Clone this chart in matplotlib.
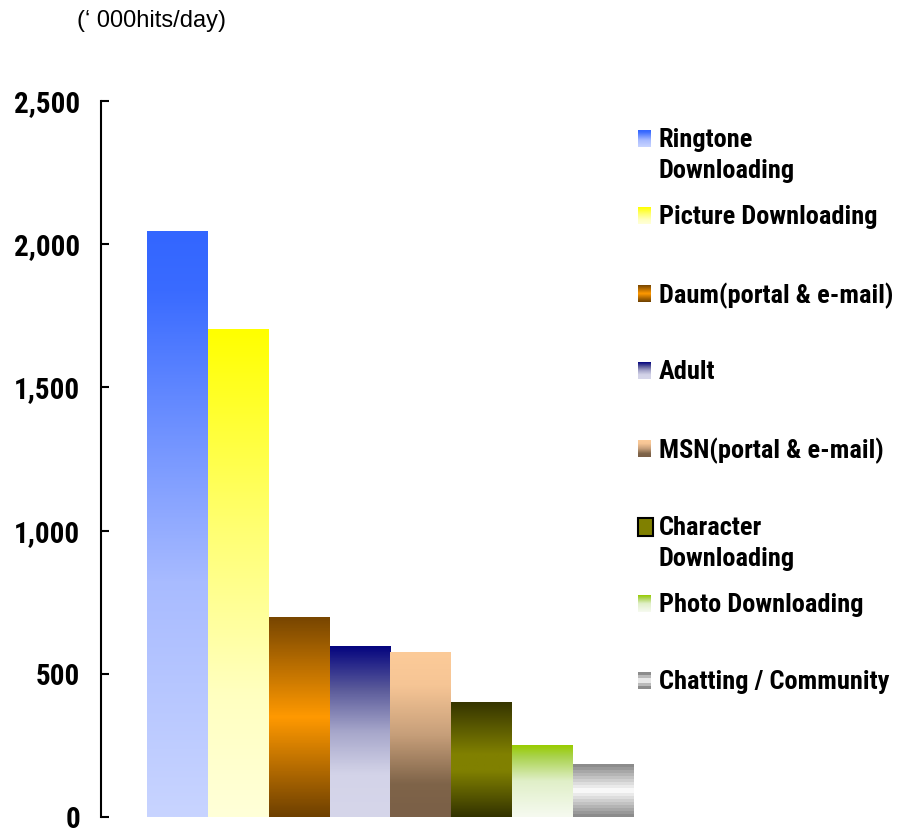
import numpy as np
import matplotlib
matplotlib.use('Agg')
import matplotlib.pyplot as plt
from matplotlib import colors, ticker, font_manager
from matplotlib.font_manager import FontProperties


categories = ['Ringtone\nDownloading', 'Picture Downloading', 'Daum(portal & e-mail)',
              'Adult', 'MSN(portal & e-mail)', 'Character\nDownloading',
              'Photo Downloading', 'Chatting / Community']
hits = [2045, 1703, 695, 597, 576, 401, 248, 185]   # '000 hits/day
yticks = [0, 500, 1000, 1500, 2000, 2500]
unit_label = '(\u2018 000hits/day)'

# gradient stops per bar, top -> bottom
gradients = [
    [(0, '#3366FF'), (0.1, '#3A6BFF'), (0.6, '#A8BBFF'), (1, '#C8D4FF')],
    [(0, '#FFFF00'), (0.4, '#FFFF70'), (0.75, '#FFFFC0'), (1, '#FFFFD8')],
    [(0, '#784600'), (0.5, '#FF9900'), (1, '#6E4000')],
    [(0, '#05057F'), (0.25, '#5A5A9A'), (0.5, '#A6A6CA'), (0.75, '#D3D3E8'), (1, '#D6D6EA')],
    [(0, '#FCCB99'), (0.2, '#F6C595'), (0.5, '#C79F7A'), (0.8, '#7F6449'), (1, '#7A5F47')],
    [(0, '#363500'), (0.45, '#808000'), (0.6, '#808000'), (1, '#333300')],
    [(0, '#99CC00'), (0.15, '#A8D24A'), (0.5, '#E0EFC8'), (1, '#F6FAF0')],
    [(0, '#8C8C8C'), (0.5, '#FFFFFF'), (1, '#8C8C8C')],
]
banded = [False, False, False, False, False, False, False, True]


def pick_font(fams):
    for f in fams:
        try:
            font_manager.findfont(FontProperties(family=f), fallback_to_default=False)
            return f
        except ValueError:
            pass
    return None

narrow = pick_font(['Arial Narrow', 'Liberation Sans Narrow', 'Roboto Condensed', 'Archivo Narrow'])
regular = pick_font(['Liberation Sans', 'Arial']) or 'DejaVu Sans'
if narrow:
    tick_size, leg_size = 21, 19
else:
    narrow, tick_size, leg_size = regular, 19, 16


def grad_img(stops, n=200):
    cmap = colors.LinearSegmentedColormap.from_list('g', stops)
    return cmap(np.linspace(0, 1, n))[:, None, :3]


fig = plt.figure(figsize=(9, 8.31), dpi=100)
W, H = 900, 831
ax = fig.add_axes([101 / W, (H - 817) / H, 539 / W, (817 - 101) / H])

for i, (h, st, b) in enumerate(zip(hits, gradients, banded)):
    img = grad_img(st, 18 if b else 200)
    ax.imshow(img, extent=(i - 0.5, i + 0.5, 0, h), aspect='auto',
              interpolation='nearest' if b else 'bilinear', origin='upper', zorder=2)

ax.set_xlim(-1.255, 7.6)
ax.set_ylim(0, 2500)
ax.set_yticks(yticks)
ax.yaxis.set_major_formatter(ticker.StrMethodFormatter('{x:,.0f}'))
ax.set_xticks([])
for s in ['top', 'right', 'bottom']:
    ax.spines[s].set_visible(False)
ax.spines['left'].set_linewidth(1.5)
ax.tick_params(axis='y', direction='in', length=6, width=1.5, pad=15)
for lab in ax.get_yticklabels():
    lab.set_fontfamily(narrow)
    lab.set_fontweight('bold')
    lab.set_fontsize(tick_size)

# overlay in pixel coordinates for the unit label and legend
ov = fig.add_axes([0, 0, 1, 1])
ov.set_xlim(0, W)
ov.set_ylim(H, 0)
ov.axis('off')
ov.patch.set_visible(False)

ov.text(77, 21, unit_label, fontsize=17, family=regular, va='center', ha='left')

marker_tops = [130, 207, 285, 362, 440, 518, 595, 672]
for k, (cat, st, b) in enumerate(zip(categories, gradients, banded)):
    y0 = marker_tops[k]
    if k == 5:
        ov.add_patch(plt.Rectangle((638, y0), 15, 18, facecolor='#808000',
                                   edgecolor='black', linewidth=1.5))
    else:
        img = grad_img(st, 6 if b else 40)
        ov.imshow(img, extent=(638, 651, y0 + 17, y0), aspect='auto',
                  interpolation='nearest' if b else 'bilinear', origin='upper')
    ov.text(659, y0 - 2, cat, fontsize=leg_size, family=narrow, fontweight='bold',
            va='top', ha='left', linespacing=1.38)
ov.set_xlim(0, W)
ov.set_ylim(H, 0)

fig.savefig('out.png', dpi=100)
